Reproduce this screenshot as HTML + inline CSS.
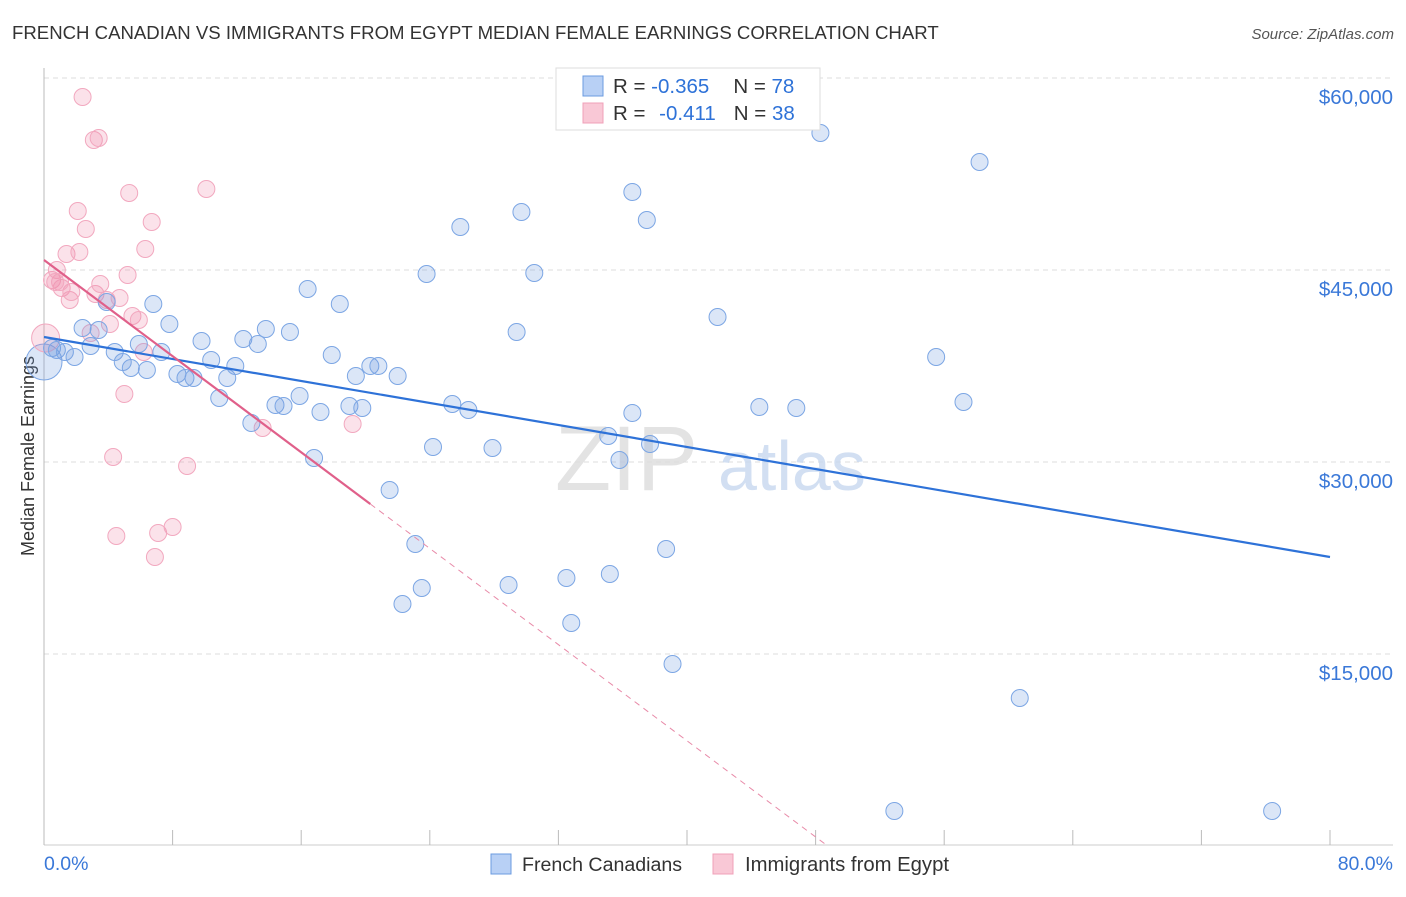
<!DOCTYPE html>
<html><head><meta charset="utf-8"><style>
body{margin:0;background:#fff;font-family:"Liberation Sans",sans-serif;}
svg text{font-family:"Liberation Sans",sans-serif;}
</style></head><body>
<svg id="chart" width="1406" height="892" xmlns="http://www.w3.org/2000/svg">
<text x="12" y="39" font-size="18.6" fill="#333">FRENCH CANADIAN VS IMMIGRANTS FROM EGYPT MEDIAN FEMALE EARNINGS CORRELATION CHART</text>
<text x="1394" y="39" font-size="15" fill="#555" font-style="italic" text-anchor="end">Source: ZipAtlas.com</text>
<g id="grid"></g>
<g><text x="555" y="490" font-size="92" fill="#ddd" font-family="Liberation Serif" opacity="0.8">ZIP</text><text x="718" y="490" font-size="70" fill="#c8d8ef" opacity="0.8">atlas</text></g>
<line x1="44" y1="68" x2="44" y2="845" stroke="#bbb"/>
<line x1="44" y1="845" x2="1393" y2="845" stroke="#ccc"/>
<g id="xticks"></g>
<g id="ylabels"></g>
<text transform="translate(34,456) rotate(-90)" font-size="18" fill="#333" text-anchor="middle">Median Female Earnings</text>
<text x="44" y="870" font-size="19.5" fill="#3a78d8">0.0%</text>
<text x="1393" y="870" font-size="19.5" fill="#3a78d8" text-anchor="end">80.0%</text>
<g id="pts"></g>
<g id="trends"></g>
<g>
<rect x="556" y="68" width="264" height="62" fill="#fff" stroke="#ddd"/>
<rect x="583" y="76" width="20" height="20" fill="#b8d0f5" stroke="#6b9be0"/>
<rect x="583" y="103" width="20" height="20" fill="#f9c8d6" stroke="#f0a0b8"/>
<text x="613" y="93" font-size="20.5" fill="#333">R = <tspan fill="#2e72d8">-0.365</tspan><tspan dx="24">N = </tspan><tspan fill="#2e72d8">78</tspan></text>
<text x="613" y="120" font-size="20.5" fill="#333">R = <tspan fill="#2e72d8" dx="8">-0.411</tspan><tspan dx="18">N = </tspan><tspan fill="#2e72d8">38</tspan></text>
</g>
<g>
<rect x="491" y="854" width="20" height="20" fill="#b8d0f5" stroke="#6b9be0"/>
<text x="522" y="871" font-size="19.6" fill="#333">French Canadians</text>
<rect x="713" y="854" width="20" height="20" fill="#f9c8d6" stroke="#f0a0b8"/>
<text x="745" y="871" font-size="20.3" fill="#333">Immigrants from Egypt</text>
</g>
</svg>
<script>
const yTicks=[15000,30000,45000,60000];
const yTickLabels=["$15,000","$30,000","$45,000","$60,000"];
const blueX=[0.5,0.8,1.3,1.9,2.4,2.9,3.4,3.9,4.4,4.9,5.4,5.9,6.4,6.8,7.3,7.8,8.3,8.8,9.3,9.8,10.4,10.9,11.4,11.9,12.4,12.9,13.3,13.8,14.4,14.9,15.3,15.9,16.4,16.8,17.2,17.9,18.4,19.0,19.4,19.8,20.3,20.8,21.5,22.0,22.3,23.1,23.5,23.8,24.2,25.4,25.9,26.4,27.9,28.9,29.4,29.7,30.5,32.5,32.8,35.1,35.2,35.8,36.6,36.6,37.5,37.7,38.7,39.1,41.9,44.5,46.8,48.3,52.9,55.5,57.2,58.2,60.7,76.4];
const blueY=[38906,38750,38594,38203,40469,39063,40313,42500,38594,37813,37344,39219,37188,42344,38594,40781,36875,36563,36563,39453,37969,35000,36563,37500,39609,33047,39219,40391,34453,34375,40156,35156,43516,30313,33906,38359,42344,34375,36719,34219,37500,37500,27813,36719,18906,23594,20156,44688,31172,34531,48359,34063,31094,20391,40156,49531,44766,20938,17422,32031,21250,30156,51094,33828,48906,31406,23203,14219,41328,34297,34219,55703,2734,38203,34688,53438,11563,2734];
const pinkX=[0.5,0.8,1.1,1.4,1.6,1.7,2.1,2.2,2.6,2.9,3.1,3.2,3.4,3.5,3.9,4.1,4.3,4.5,4.7,5.0,5.2,5.3,5.5,5.9,6.2,6.3,6.7,6.9,7.1,8.0,8.9,10.1,13.6,19.2,2.4,1.0,0.7];
const pinkY=[44219,45000,43594,46250,42656,43281,49609,46406,48203,40078,55156,43125,55313,43906,42656,40781,30391,24219,42813,35313,44609,51016,41406,41094,38594,46641,48750,22578,24453,24922,29688,51328,32656,32969,58516,44063,44063];
const blueTrend=[39766,22578];
const pinkTrend=[45781,26719];
const pinkSolidEnd=20.3;
const NS="http://www.w3.org/2000/svg";
const X=v=>44+v/80*1286, Y=v=>846-v/15000*192;
function mk(t,a,p){const e=document.createElementNS(NS,t);for(const k in a)e.setAttribute(k,a[k]);p.appendChild(e);return e;}
const grid=document.getElementById('grid'),yl=document.getElementById('ylabels'),xt=document.getElementById('xticks');
yTicks.forEach((t,i)=>{
 const l=mk('line',{x1:44,x2:1393,y1:Y(t),y2:Y(t),stroke:'#ddd','stroke-dasharray':'5,4'},grid);
 
 
 const tx=mk('text',{x:1393,y:Y(t)+26,'font-size':20.5,fill:'#3a78d8','text-anchor':'end'},yl);
 tx.textContent=yTickLabels[i];
 
 
});
for(let i=0;i<=10;i++){const l=mk('line',{x1:X(i*8),x2:X(i*8),y1:830,y2:845,stroke:'#bbb'},xt);
 
 }
const pts=document.getElementById('pts');
const bc=mk('circle',{cx:X(0),cy:Y(37813),r:18,fill:'rgba(110,155,225,0.25)',stroke:'#7ca6e4'},pts);


const pc=mk('circle',{cx:X(0.1),cy:Y(39688),r:14,fill:'rgba(240,140,170,0.25)',stroke:'#f2a8bf'},pts);


pinkX.forEach((x,i)=>{const c=mk('circle',{cx:X(x),cy:Y(pinkY[i]),r:8.5,fill:'rgba(240,140,170,0.25)',stroke:'#f2a8bf'},pts);
 
 });
blueX.forEach((x,i)=>{const c=mk('circle',{cx:X(x),cy:Y(blueY[i]),r:8.5,fill:'rgba(110,155,225,0.25)',stroke:'#7ca6e4'},pts);
 
 });
const tr=document.getElementById('trends');
const bl=mk('line',{x1:X(0),y1:Y(blueTrend[0]),x2:X(80),y2:Y(blueTrend[1]),stroke:'#2e72d8','stroke-width':2.2},tr);


const slope=(pinkTrend[1]-pinkTrend[0])/pinkSolidEnd, zeroX=-pinkTrend[0]/slope;
const pl=mk('line',{x1:X(0),y1:Y(pinkTrend[0]),x2:X(pinkSolidEnd),y2:Y(pinkTrend[1]),stroke:'#e0608a','stroke-width':2.2},tr);


const pd=mk('line',{x1:X(pinkSolidEnd),y1:Y(pinkTrend[1]),x2:X(zeroX),y2:Y(0),stroke:'#e88aa8','stroke-width':1,'stroke-dasharray':'6,5'},tr);


</script>
</body></html>
